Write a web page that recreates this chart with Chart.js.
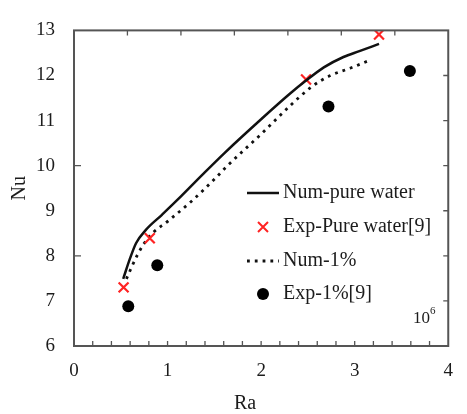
<!DOCTYPE html>
<html>
<head>
<meta charset="utf-8">
<script src="https://cdn.jsdelivr.net/npm/chart.js@4.4.1/dist/chart.umd.min.js"></script>
<style>
  html, body { margin: 0; padding: 0; background: #fff; }
  #wrap { width: 467px; height: 414px; }
</style>
</head>
<body>
<div id="wrap"><canvas id="nuChart"></canvas></div>
<script>
// Nu against Ra (x10^6): numerical curves and experimental points

const numPureRa = [0.526, 0.595, 0.663, 0.766, 0.94, 1.11, 1.368, 1.608, 2.0, 2.31, 2.47, 2.67, 2.88, 3.05, 3.26];
const numPureNu = [7.49, 7.92, 8.28, 8.57, 8.91, 9.25, 9.79, 10.28, 11.03, 11.6, 11.87, 12.18, 12.41, 12.54, 12.7];

const num1Ra = [0.56, 0.68, 0.8, 1.01, 1.25, 1.52, 1.626, 2.0, 2.31, 2.54, 2.74, 2.95, 3.14];
const num1Nu = [7.49, 8.03, 8.42, 8.78, 9.2, 9.74, 9.97, 10.7, 11.33, 11.75, 12.0, 12.16, 12.32];

const expPureRa = [0.53, 0.81, 2.48, 3.26];
const expPureNu = [7.3, 8.39, 11.91, 12.91];

const exp1Ra = [0.58, 0.89, 2.72, 3.59];
const exp1Nu = [6.88, 7.79, 11.31, 12.1];

const seriesNames = ['Num-pure water', 'Exp-Pure water[9]', 'Num-1%', 'Exp-1%[9]'];

const bottomTicks = [0.2, 0.4, 0.6, 0.8, 1, 1.2, 1.4, 1.6, 1.8, 2, 2.2, 2.4, 2.6, 2.8, 3, 3.2, 3.4, 3.6, 3.8];
const topTicks = [0.571, 1.143, 1.714, 2.286, 2.857, 3.429];
const leftTicks = [8, 10];
const rightTicks = [7, 8, 9, 10, 11, 12];

const SERIF = '"Liberation Serif", "Times New Roman", serif';
const TEXT = '#1c1c1c';
const FRAME = '#555';
const RED = 'rgb(255, 35, 35)';

const pts = (xs, ys) => xs.map((x, i) => ({ x: x, y: ys[i] }));

// frame, inward ticks, axis titles, legend, exponent
const decor = {
  id: 'decor',
  afterDatasetsDraw(chart) {
    const ctx = chart.ctx;
    const a = chart.chartArea;
    const xs = chart.scales.x, ys = chart.scales.y;
    ctx.save();

    ctx.strokeStyle = FRAME;
    ctx.lineWidth = 2;
    ctx.strokeRect(a.left, a.top, a.right - a.left, a.bottom - a.top);

    ctx.lineWidth = 1.3;
    ctx.beginPath();
    bottomTicks.forEach(v => {
      const px = xs.getPixelForValue(v);
      ctx.moveTo(px, a.bottom); ctx.lineTo(px, a.bottom - 5);
    });
    topTicks.forEach(v => {
      const px = xs.getPixelForValue(v);
      ctx.moveTo(px, a.top); ctx.lineTo(px, a.top + 5);
    });
    leftTicks.forEach(v => {
      const py = ys.getPixelForValue(v);
      ctx.moveTo(a.left, py); ctx.lineTo(a.left + 7, py);
    });
    rightTicks.forEach(v => {
      const py = ys.getPixelForValue(v);
      ctx.moveTo(a.right, py); ctx.lineTo(a.right - 5, py);
    });
    ctx.stroke();

    // axis titles
    ctx.fillStyle = TEXT;
    ctx.font = '20px ' + SERIF;
    ctx.textAlign = 'center';
    ctx.textBaseline = 'middle';
    ctx.fillText('Ra', (a.left + a.right) / 2 - 16, 404);
    ctx.save();
    ctx.translate(20, (a.top + a.bottom) / 2);
    ctx.rotate(-Math.PI / 2);
    ctx.fillText('Nu', 0, 0);
    ctx.restore();

    // exponent
    ctx.textAlign = 'left';
    ctx.textBaseline = 'alphabetic';
    ctx.font = '17px ' + SERIF;
    ctx.fillText('10', 413, 323);
    ctx.font = '11px ' + SERIF;
    ctx.fillText('6', 430, 314);

    // legend
    const rowY = [193, 227, 261, 294];
    chart.data.datasets.forEach((ds, i) => {
      const y = rowY[i];
      if (ds.showLine) {
        ctx.strokeStyle = ds.borderColor;
        ctx.lineWidth = ds.borderWidth;
        ctx.setLineDash(ds.borderDash || []);
        ctx.beginPath();
        ctx.moveTo(247, y); ctx.lineTo(279, y);
        ctx.stroke();
        ctx.setLineDash([]);
      } else if (ds.pointStyle === 'crossRot') {
        ctx.strokeStyle = ds.pointBorderColor;
        ctx.lineWidth = 2;
        ctx.beginPath();
        ctx.moveTo(258, y - 5); ctx.lineTo(268, y + 5);
        ctx.moveTo(268, y - 5); ctx.lineTo(258, y + 5);
        ctx.stroke();
      } else {
        ctx.fillStyle = ds.pointBackgroundColor;
        ctx.beginPath();
        ctx.arc(263, y, 6, 0, Math.PI * 2);
        ctx.fill();
      }
      ctx.fillStyle = TEXT;
      ctx.font = '20px ' + SERIF;
      ctx.textBaseline = 'middle';
      ctx.fillText(ds.label, 283, y);
    });

    ctx.restore();
  }
};

new Chart(document.getElementById('nuChart'), {
  type: 'scatter',
  data: {
    datasets: [
      {
        label: seriesNames[0],
        data: pts(numPureRa, numPureNu),
        showLine: true,
        borderColor: '#111',
        borderWidth: 2.5,
        pointRadius: 0,
        cubicInterpolationMode: 'monotone'
      },
      {
        label: seriesNames[1],
        data: pts(expPureRa, expPureNu),
        showLine: false,
        pointStyle: 'crossRot',
        pointRadius: 7,
        pointBorderWidth: 2.2,
        pointBorderColor: RED,
        pointBackgroundColor: RED
      },
      {
        label: seriesNames[2],
        data: pts(num1Ra, num1Nu),
        showLine: true,
        borderColor: '#111',
        borderWidth: 2.8,
        borderDash: [2.8, 5],
        pointRadius: 0,
        cubicInterpolationMode: 'monotone'
      },
      {
        label: seriesNames[3],
        data: pts(exp1Ra, exp1Nu),
        showLine: false,
        pointStyle: 'circle',
        pointRadius: 6,
        pointBorderWidth: 0,
        pointBackgroundColor: '#000',
        pointBorderColor: '#000'
      }
    ]
  },
  options: {
    responsive: true,
    maintainAspectRatio: false,
    animation: false,
    layout: { padding: { top: 21, right: 5, left: 0, bottom: 0 } },
    plugins: {
      legend: { display: false },
      tooltip: { enabled: false }
    },
    scales: {
      x: {
        type: 'linear',
        min: 0,
        max: 4,
        ticks: { stepSize: 1, color: TEXT, font: { family: SERIF, size: 19 }, padding: 14, maxRotation: 0 },
        grid: { display: false, drawTicks: false },
        border: { display: false },
        afterFit: s => { s.height = 68; }
      },
      y: {
        type: 'linear',
        min: 6,
        max: 13,
        ticks: { stepSize: 1, color: TEXT, font: { family: SERIF, size: 19 }, padding: 19 },
        grid: { display: false, drawTicks: false },
        border: { display: false },
        afterFit: s => { s.width = 74; }
      }
    }
  },
  plugins: [decor]
});
</script>
</body>
</html>
